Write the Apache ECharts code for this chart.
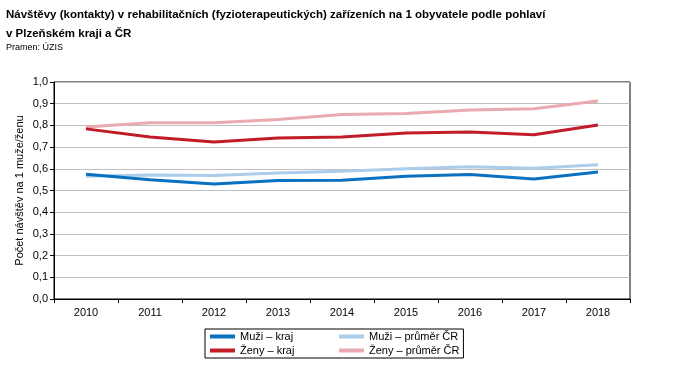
<!DOCTYPE html>
<html>
<head>
<meta charset="utf-8">
<script src="https://cdn.jsdelivr.net/npm/echarts@6/dist/echarts.min.js"></script>
<style>
  html, body { margin: 0; padding: 0; background: #fff; }
  #chart { width: 673px; height: 377px; }
</style>
</head>
<body>
<div id="chart"></div>
<script>
// roky
var years = ["2010", "2011", "2012", "2013", "2014", "2015", "2016", "2017", "2018"];
// návštěvy na 1 obyvatele
var muziKraj = [0.575, 0.550, 0.530, 0.546, 0.547, 0.566, 0.574, 0.553, 0.585];
var zenyKraj = [0.784, 0.747, 0.723, 0.742, 0.747, 0.765, 0.770, 0.757, 0.802];
var muziCR = [0.566, 0.571, 0.569, 0.581, 0.589, 0.600, 0.609, 0.602, 0.619];
var zenyCR = [0.793, 0.812, 0.812, 0.827, 0.850, 0.855, 0.871, 0.877, 0.912];

var font = "Liberation Sans, Arial, sans-serif";

function serie(name, data, color) {
  return {
    name: name,
    type: "line",
    data: data,
    symbol: "none",
    lineStyle: { color: color, width: 3 },
    itemStyle: { color: color }
  };
}

var legendText = { fontFamily: font, fontSize: 11, color: "#000" };

var option = {
  backgroundColor: "#fff",
  animation: false,
  title: {
    text: "Návštěvy (kontakty) v rehabilitačních (fyzioterapeutických) zařízeních na 1 obyvatele podle pohlaví\nv Plzeňském kraji a ČR",
    subtext: "Pramen: ÚZIS",
    left: 1,
    top: 0,
    itemGap: 0,
    textStyle: { fontFamily: font, fontSize: 11.5, fontWeight: "bold", color: "#000", lineHeight: 19 },
    subtextStyle: { fontFamily: font, fontSize: 9, color: "#000" }
  },
  grid: {
    left: 54,
    right: 43,
    top: 82,
    bottom: 78,
    show: true,
    borderColor: "#000",
    borderWidth: 1
  },
  legend: [
    {
      // levý sloupec + rámeček celé legendy
      left: 205,
      top: 329,
      orient: "vertical",
      padding: [2, 169, 2, 5],
      itemGap: 3,
      itemWidth: 25,
      itemHeight: 4,
      icon: "rect",
      borderColor: "#000",
      borderWidth: 1,
      data: ["Muži – kraj", "Ženy – kraj"],
      textStyle: legendText
    },
    {
      left: 339,
      top: 331,
      orient: "vertical",
      padding: 0,
      itemGap: 3,
      itemWidth: 25,
      itemHeight: 4,
      icon: "rect",
      data: ["Muži – průměr ČR", "Ženy – průměr ČR"],
      textStyle: legendText
    }
  ],
  xAxis: {
    type: "category",
    data: years,
    boundaryGap: true,
    axisLine: { lineStyle: { color: "#000", width: 1 } },
    axisTick: { show: true, length: 4, inside: false, lineStyle: { color: "#000" } },
    axisLabel: { fontFamily: font, fontSize: 11, color: "#000", margin: 8 }
  },
  yAxis: {
    type: "value",
    min: 0,
    max: 1,
    interval: 0.1,
    name: "Počet návštěv na 1 muže/ženu",
    nameLocation: "middle",
    nameGap: 29,
    nameMoveOverlap: false,
    nameTextStyle: { fontFamily: font, fontSize: 11, color: "#000" },
    axisLine: { show: true, lineStyle: { color: "#000", width: 1 } },
    axisTick: { show: true, length: 4, lineStyle: { color: "#000" } },
    splitLine: { lineStyle: { color: "#bfbfbf", width: 1 } },
    axisLabel: {
      fontFamily: font, fontSize: 11, color: "#000", margin: 6,
      formatter: function (v) { return v.toFixed(1).replace(".", ","); }
    }
  },
  series: [
    serie("Muži – průměr ČR", muziCR, "#a9cdea"),
    serie("Ženy – průměr ČR", zenyCR, "#eaaab0"),
    serie("Muži – kraj", muziKraj, "#0a70c0"),
    serie("Ženy – kraj", zenyKraj, "#c01d28")
  ]
};

var chartObj = echarts.init(document.getElementById("chart"));
chartObj.setOption(option);
</script>
</body>
</html>
